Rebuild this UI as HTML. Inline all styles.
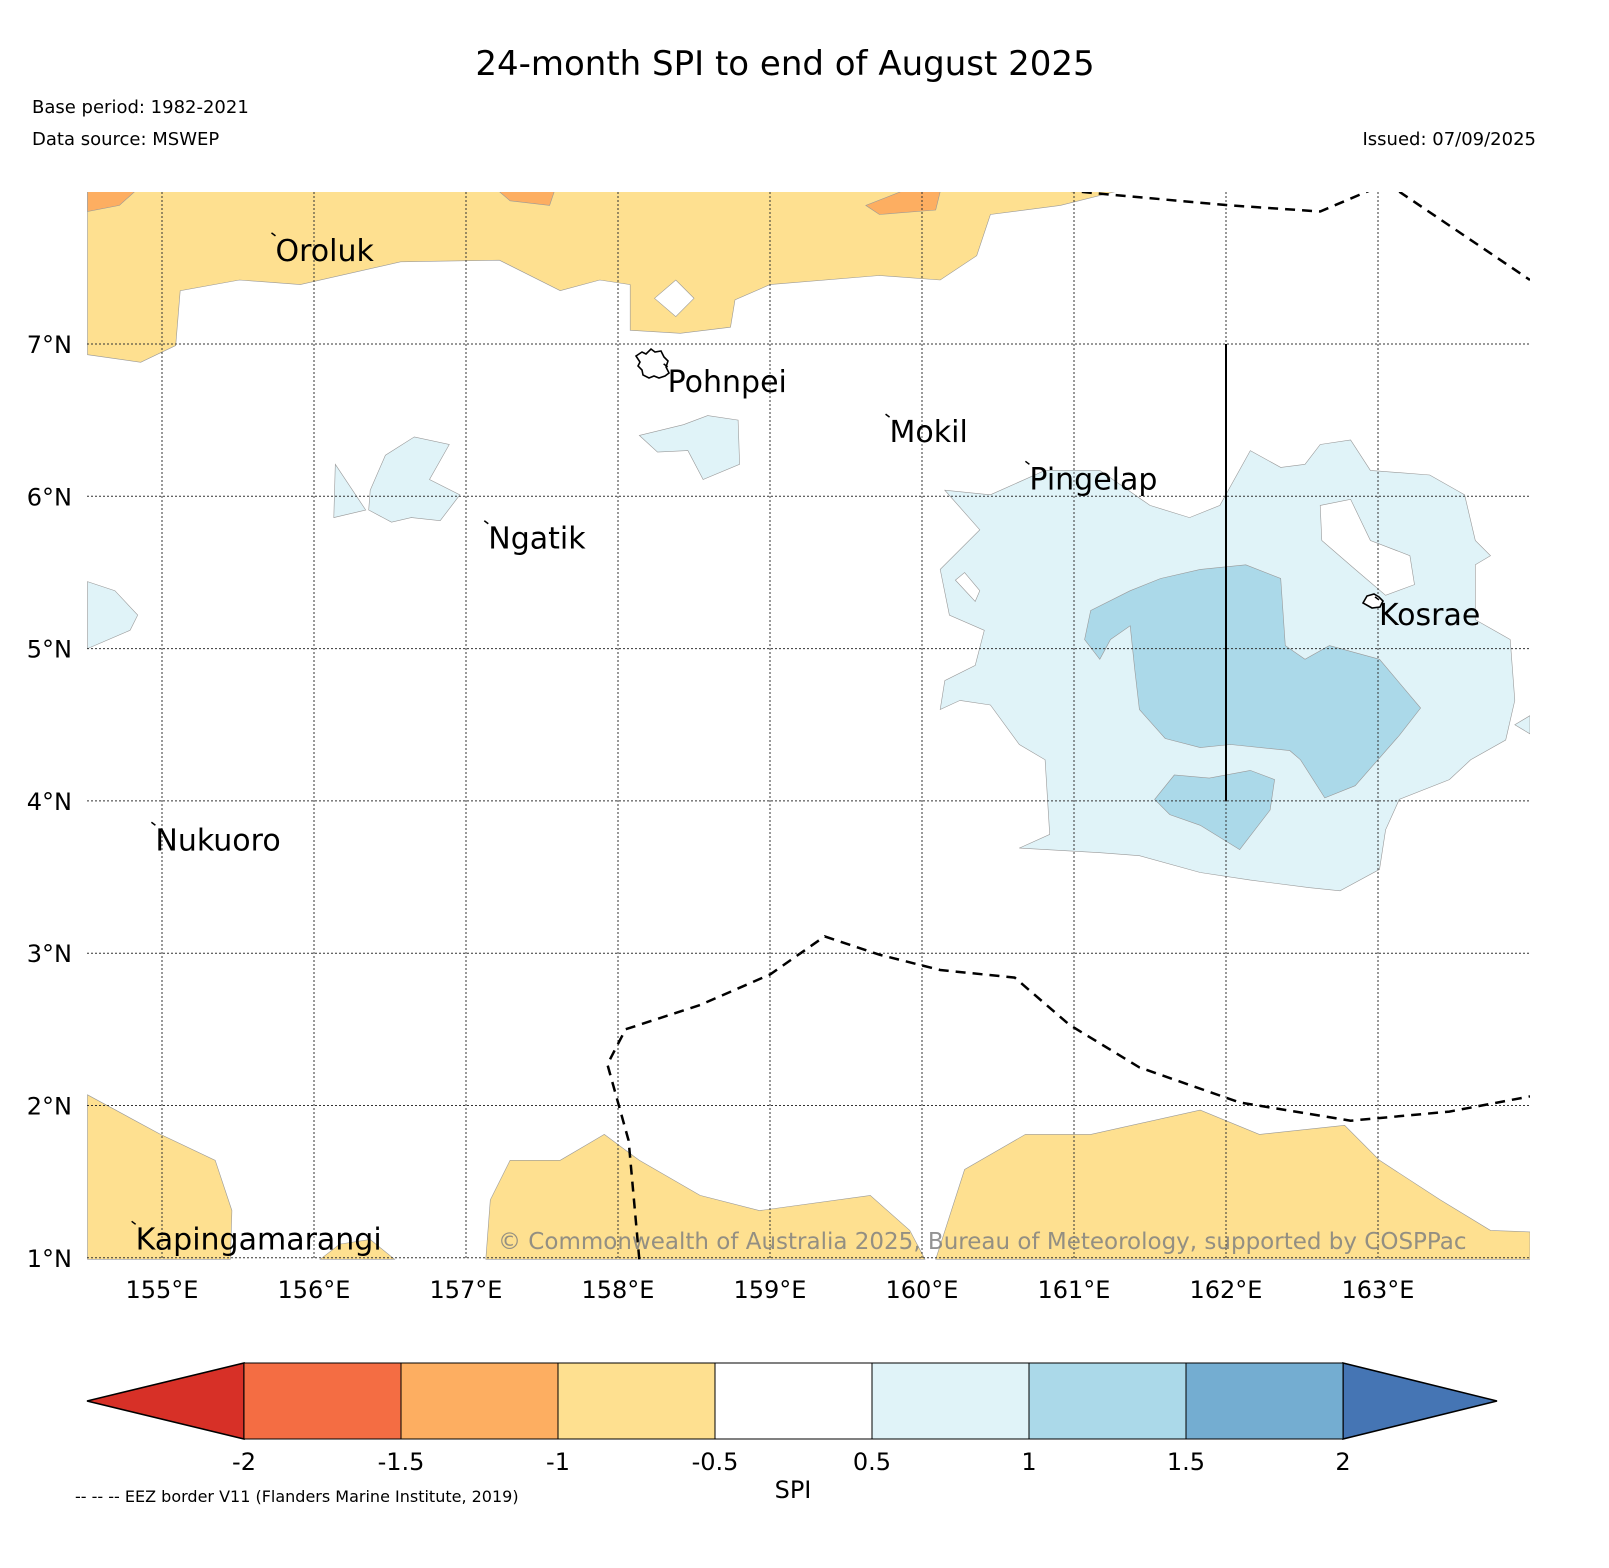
<!DOCTYPE html>
<html><head><meta charset="utf-8"><style>
body{margin:0;background:#fff;font-family:"Liberation Sans","DejaVu Sans",sans-serif}
svg text{font-family:"DejaVu Sans","Liberation Sans",sans-serif}
</style></head><body>
<svg id="s" width="1609" height="1563" viewBox="0 0 1609 1563" xmlns="http://www.w3.org/2000/svg">
<text x="785" y="75" font-size="34" text-anchor="middle">24-month SPI to end of August 2025</text>
<text x="32" y="113" font-size="18">Base period: 1982-2021</text>
<text x="32" y="145" font-size="18">Data source: MSWEP</text>
<text x="1536" y="145" font-size="18" text-anchor="end">Issued: 07/09/2025</text>
<defs><clipPath id="mc"><rect x="87" y="192" width="1443" height="1068"/></clipPath></defs>
<g id="map" clip-path="url(#mc)"></g>
<g id="ax"></g>
<g id="cb"></g>
<text x="793" y="1498" font-size="24" text-anchor="middle">SPI</text>
<text x="75" y="1502" font-size="16">-- -- -- EEZ border V11 (Flanders Marine Institute, 2019)</text>
</svg>
<script>
const lonTicks=[155,156,157,158,159,160,161,162,163];
const latTicks=[1,2,3,4,5,6,7];
const cbBounds=[-2,-1.5,-1,-0.5,0.5,1,1.5,2];
const cbColors=["#f46d43","#fdae61","#fee090","#ffffff","#e0f3f8","#abd9e9","#74add1"];
const orangeTop=[[154.51,8.0],[161.27,8.0],[160.91,7.91],[160.45,7.85],[160.36,7.58],[160.12,7.42],[159.72,7.45],[159.0,7.39],[158.77,7.29],[158.74,7.11],[158.41,7.07],[158.08,7.09],[158.08,7.39],[157.88,7.42],[157.62,7.35],[157.22,7.55],[156.57,7.54],[155.91,7.39],[155.51,7.42],[155.12,7.35],[155.09,6.99],[154.86,6.88],[154.51,6.93]];
const orangeBL=[[154.51,2.07],[154.99,1.81],[155.35,1.64],[155.46,1.31],[155.45,0.99],[154.51,0.99]];
const orangeB2=[[156.04,0.99],[156.17,1.09],[156.37,1.12],[156.53,0.99]];
const orangeB3=[[157.13,0.99],[157.16,1.38],[157.29,1.64],[157.62,1.64],[157.91,1.81],[158.14,1.64],[158.54,1.41],[158.93,1.31],[159.66,1.41],[159.92,1.18],[160.02,0.99]];
const orangeB4=[[160.09,0.99],[160.28,1.58],[160.68,1.81],[161.11,1.81],[161.83,1.97],[162.22,1.81],[162.78,1.87],[163.01,1.64],[163.41,1.38],[163.74,1.18],[164.0,1.17],[164.0,0.99]];
const darkOr1=[[154.51,8.0],[154.82,8.0],[154.72,7.91],[154.51,7.87]];
const darkOr2=[[159.63,7.91],[159.86,8.0],[160.12,8.0],[160.09,7.88],[159.72,7.85]];
const darkOr3=[[157.22,8.0],[157.58,8.0],[157.55,7.91],[157.29,7.94]];
const whiteHoleTop=[[158.24,7.3],[158.38,7.42],[158.5,7.3],[158.38,7.18]];
const blueA=[[158.14,6.40],[158.43,6.47],[158.59,6.53],[158.79,6.50],[158.80,6.21],[158.56,6.11],[158.46,6.30],[158.26,6.29]];
const blueB=[[156.37,6.04],[156.47,6.27],[156.66,6.39],[156.89,6.34],[156.76,6.11],[156.96,6.01],[156.83,5.84],[156.64,5.86],[156.51,5.83],[156.36,5.91]];
const blueC=[[156.14,6.21],[156.34,5.91],[156.13,5.86]];
const blueD=[[154.51,5.44],[154.69,5.38],[154.84,5.22],[154.79,5.12],[154.51,5.0]];
const blueBig=[[160.15,6.04],[160.45,6.01],[160.81,6.17],[161.17,6.17],[161.50,5.94],[161.76,5.86],[161.96,5.94],[162.16,6.30],[162.36,6.19],[162.52,6.21],[162.62,6.34],[162.82,6.37],[162.95,6.17],[163.34,6.14],[163.57,6.01],[163.64,5.71],[163.74,5.61],[163.64,5.55],[163.64,5.19],[163.87,5.06],[163.90,4.66],[163.84,4.40],[163.61,4.27],[163.47,4.14],[163.14,4.01],[163.05,3.81],[163.01,3.55],[162.75,3.41],[162.55,3.43],[162.16,3.48],[161.83,3.53],[161.43,3.64],[161.17,3.66],[160.64,3.69],[160.84,3.78],[160.81,4.27],[160.64,4.37],[160.45,4.63],[160.25,4.66],[160.12,4.60],[160.15,4.79],[160.35,4.89],[160.41,5.12],[160.18,5.22],[160.12,5.52],[160.38,5.78]];
const hole1=[[162.62,5.94],[162.82,5.98],[162.95,5.71],[163.21,5.61],[163.24,5.42],[163.05,5.35],[162.85,5.52],[162.63,5.71]];
const hole2=[[160.22,5.45],[160.28,5.50],[160.38,5.38],[160.35,5.31]];
const med1=[[161.11,5.25],[161.37,5.38],[161.57,5.46],[161.83,5.52],[162.13,5.55],[162.36,5.46],[162.39,5.02],[162.52,4.93],[162.68,5.02],[163.01,4.93],[163.28,4.61],[163.14,4.43],[162.85,4.10],[162.65,4.02],[162.49,4.27],[162.42,4.33],[162.03,4.37],[161.83,4.35],[161.60,4.41],[161.43,4.60],[161.40,4.86],[161.37,5.15],[161.24,5.06],[161.17,4.93],[161.07,5.06]];
const med2=[[161.53,4.01],[161.66,4.17],[161.89,4.15],[162.16,4.20],[162.32,4.14],[162.29,3.94],[162.09,3.68],[161.83,3.84],[161.63,3.91]];
const blueE=[[163.9,4.5],[164.0,4.56],[164.0,4.44]];
const eezTop1=[[160.94,8.01],[161.24,7.98],[162.03,7.91],[162.62,7.87],[162.95,8.01]];
const eezTop2=[[163.14,8.0],[164.0,7.42]];
const eezBottom=[[158.14,0.99],[158.07,1.77],[157.93,2.27],[158.05,2.50],[158.54,2.66],[159.0,2.86],[159.36,3.11],[159.72,2.99],[160.12,2.89],[160.61,2.84],[160.97,2.53],[161.43,2.25],[162.09,2.02],[162.82,1.90],[163.47,1.96],[164.0,2.06]];
const boundaryLine=[[162.0,7.0],[162.0,4.0]];
const islands=[["Oroluk",155.74,7.71],["Pohnpei",158.32,6.85],["Mokil",159.78,6.52],["Pingelap",160.7,6.21],["Ngatik",157.14,5.82],["Kosrae",163.0,5.32],["Nukuoro",154.95,3.84],["Kapingamarangi",154.82,1.22]];

const X=lon=>162+(lon-155)*152;
const Y=lat=>344-(lat-7)*152.3;
const NS="http://www.w3.org/2000/svg";
function mk(tag,attrs,parent){const e=document.createElementNS(NS,tag);for(const k in attrs)e.setAttribute(k,attrs[k]);parent.appendChild(e);return e;}
const map=document.getElementById('map'),ax=document.getElementById('ax'),cb=document.getElementById('cb');
const pts=a=>a.map(p=>X(p[0]).toFixed(1)+','+Y(p[1]).toFixed(1)).join(' ');
function poly(a,fill,name){const e=mk('polygon',{points:pts(a),fill:fill,stroke:'#999','stroke-width':0.6},map);

}
poly(orangeTop,'#fee090','spi-dry-top');
poly(orangeBL,'#fee090','spi-dry-bottom-left');
poly(orangeB2,'#fee090','spi-dry-bottom-2');
poly(orangeB3,'#fee090','spi-dry-bottom-3');
poly(orangeB4,'#fee090','spi-dry-bottom-4');
poly(darkOr1,'#fdae61','spi-moderate-dry-1');
poly(darkOr2,'#fdae61','spi-moderate-dry-2');
poly(darkOr3,'#fdae61','spi-moderate-dry-3');
poly(whiteHoleTop,'#ffffff','spi-neutral-hole');
poly(blueA,'#e0f3f8','spi-wet-pohnpei');
poly(blueB,'#e0f3f8','spi-wet-west');
poly(blueC,'#e0f3f8','spi-wet-west-2');
poly(blueD,'#e0f3f8','spi-wet-edge');
poly(blueE,'#e0f3f8','spi-wet-east-edge');
poly(blueBig,'#e0f3f8','spi-wet-kosrae');
poly(hole1,'#ffffff','spi-neutral-hole-1');
poly(hole2,'#ffffff','spi-neutral-hole-2');
poly(med1,'#abd9e9','spi-moderate-wet-1');
poly(med2,'#abd9e9','spi-moderate-wet-2');
// grid
lonTicks.forEach(l=>{const g=mk('line',{x1:X(l),x2:X(l),y1:192,y2:1260,stroke:'#333','stroke-width':1,'stroke-dasharray':'2,2'},map);

});
latTicks.forEach(l=>{const g=mk('line',{x1:87,x2:1530,y1:Y(l),y2:Y(l),stroke:'#333','stroke-width':1,'stroke-dasharray':'2,2'},map);

});
[eezTop1,eezTop2,eezBottom].forEach(a=>{const e=mk('polyline',{points:pts(a),fill:'none',stroke:'#000','stroke-width':2.5,'stroke-dasharray':'10,7'},map);

});
const bl=mk('polyline',{points:pts(boundaryLine),fill:'none',stroke:'#000','stroke-width':2},map);


// islands
const pohn=mk('path',{d:'M636,356 l6,-4 l4,2 l5,-5 l4,3 l6,-1 l3,6 l4,4 l-2,6 l3,6 l-4,3 l-6,2 l-5,-2 l-5,2 l-6,-3 l-1,-5 l-4,-4 l2,-4 z',fill:'#fff',stroke:'#000','stroke-width':1.6},map);


const kos=mk('path',{d:'M1363,603 l4,-7 l7,-2 l5,3 l4,4 l-3,6 l-8,1 z',fill:'#fff',stroke:'#000','stroke-width':1.6},map);


islands.forEach(d=>{const x=X(d[1]),y=Y(d[2]);
const m=mk('line',{x1:x-3,y1:y-3,x2:x+1,y2:y,stroke:'#000','stroke-width':1.5},map);


const t=mk('text',{x:x+1,y:y+25,'font-size':30},map);t.textContent=d[0];

});
const cp=mk('text',{x:498,y:1249,'font-size':23,fill:'#808080','fill-opacity':0.85},map);
cp.textContent='© Commonwealth of Australia 2025, Bureau of Meteorology, supported by COSPPac';


// tick labels
lonTicks.forEach(l=>{const t=mk('text',{x:X(l),y:1298,'font-size':24,'text-anchor':'middle'},ax);t.textContent=l+'°E';

});
latTicks.forEach(l=>{const t=mk('text',{x:72,y:Y(l)+9,'font-size':24,'text-anchor':'end'},ax);t.textContent=l+'°N';

});
// colorbar
const cx0=244,cw=157,cy=1363,ch=76;
const CX=v=>cx0+cbBounds.indexOf(v)*cw;
const lt=mk('polygon',{points:`87,${cy+ch/2} ${cx0},${cy} ${cx0},${cy+ch}`,fill:'#d73027',stroke:'#000','stroke-width':1.5},cb);


const rt=mk('polygon',{points:`${CX(2)},${cy} 1497,${cy+ch/2} ${CX(2)},${cy+ch}`,fill:'#4575b4',stroke:'#000','stroke-width':1.5},cb);


cbColors.forEach((c,i)=>{const r=mk('rect',{x:CX(cbBounds[i]),y:cy,width:CX(cbBounds[i+1])-CX(cbBounds[i]),height:ch,fill:c,stroke:'#000','stroke-width':1},cb);

});
cbBounds.forEach(v=>{const t=mk('text',{x:CX(v),y:1470,'font-size':24,'text-anchor':'middle'},cb);t.textContent=String(v);

});
</script>
</body></html>
